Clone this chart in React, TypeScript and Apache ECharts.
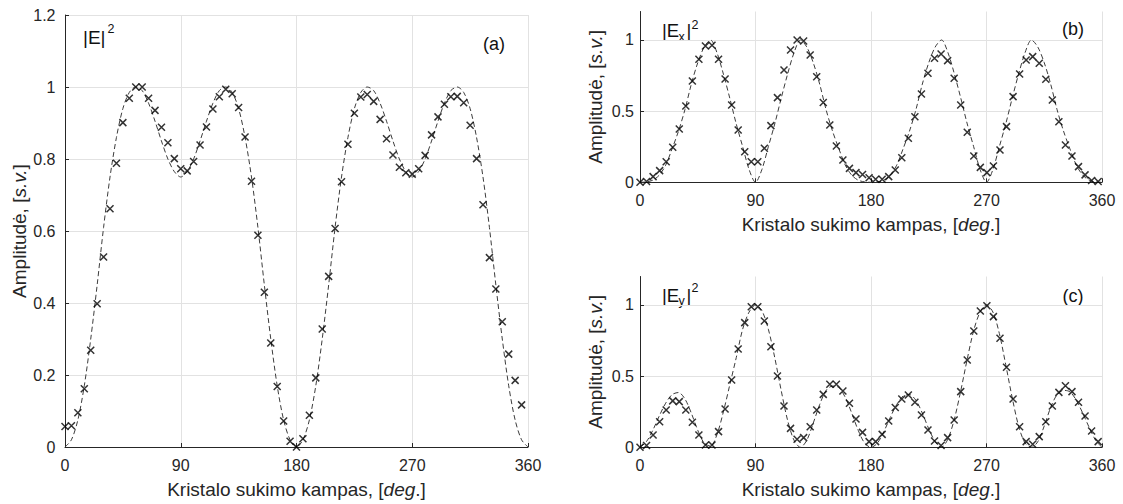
import React, { useEffect, useRef } from "react";
import * as echarts from "echarts";

// ---------- data ----------
const anglesA = [
  0, 5, 10, 15, 20, 25, 30, 35, 40, 45, 50, 55, 60, 65, 70, 75, 80, 85, 90, 95,
  100, 105, 110, 115, 120, 125, 130, 135, 140, 145, 150, 155, 160, 165, 170, 175,
  180, 185, 190, 195, 200, 205, 210, 215, 220, 225, 230, 235, 240, 245, 250, 255,
  260, 265, 270, 275, 280, 285, 290, 295, 300, 305, 310, 315, 320, 325, 330, 335,
  340, 345, 350, 355,
];
const measuredA = [
  0.057, 0.059, 0.095, 0.162, 0.269, 0.398, 0.528, 0.662, 0.788, 0.901, 0.969, 1.0,
  1.0, 0.969, 0.935, 0.888, 0.845, 0.801, 0.773, 0.767, 0.793, 0.839, 0.889, 0.939,
  0.973, 0.994, 0.981, 0.943, 0.861, 0.738, 0.588, 0.43, 0.289, 0.168, 0.072, 0.016,
  0.0, 0.023, 0.088, 0.192, 0.328, 0.474, 0.607, 0.737, 0.841, 0.927, 0.972, 0.979,
  0.96, 0.91, 0.856, 0.811, 0.777, 0.762, 0.758, 0.773, 0.81, 0.867, 0.917, 0.952,
  0.973, 0.974, 0.956, 0.894, 0.801, 0.673, 0.526, 0.439, 0.348, 0.258, 0.185, 0.117,
];

const anglesBC = [
  0, 5.1, 10.2, 15.3, 20.4, 25.5, 30.6, 35.7, 40.8, 45.9, 51, 56.1, 61.2, 66.3, 71.4,
  76.5, 81.6, 86.7, 91.8, 96.9, 102, 107.1, 112.2, 117.3, 122.4, 127.5, 132.6, 137.7,
  142.8, 147.9, 153, 158.1, 163.2, 168.3, 173.4, 178.5, 183.6, 188.7, 193.8, 198.9,
  204, 209.1, 214.2, 219.3, 224.4, 229.5, 234.6, 239.7, 244.8, 249.9, 255, 260.1,
  265.2, 270.3, 275.4, 280.5, 285.6, 290.7, 295.8, 300.9, 306, 311.1, 316.2, 321.3,
  326.4, 331.5, 336.6, 341.7, 346.8, 351.9, 357,
];
const measuredB = [
  0, 0.005, 0.04, 0.082, 0.145, 0.246, 0.375, 0.536, 0.712, 0.864, 0.958, 0.963,
  0.864, 0.726, 0.543, 0.368, 0.215, 0.145, 0.145, 0.239, 0.398, 0.595, 0.789, 0.93,
  1.0, 0.993, 0.895, 0.742, 0.56, 0.403, 0.255, 0.157, 0.098, 0.068, 0.055, 0.032,
  0.022, 0.022, 0.04, 0.087, 0.173, 0.309, 0.461, 0.621, 0.766, 0.871, 0.902, 0.855,
  0.731, 0.543, 0.351, 0.185, 0.105, 0.068, 0.115, 0.227, 0.391, 0.602, 0.761, 0.859,
  0.883, 0.836, 0.724, 0.578, 0.426, 0.262, 0.185, 0.11, 0.052, 0.012, 0.005,
];
const measuredC = [
  0, 0.012, 0.087, 0.18, 0.262, 0.326, 0.321, 0.262, 0.176, 0.087, 0.016, 0.016,
  0.11, 0.269, 0.473, 0.691, 0.876, 0.988, 0.988, 0.888, 0.707, 0.501, 0.29, 0.133,
  0.056, 0.068, 0.145, 0.262, 0.372, 0.443, 0.443, 0.396, 0.309, 0.199, 0.105, 0.04,
  0.04, 0.091, 0.185, 0.279, 0.34, 0.368, 0.316, 0.227, 0.122, 0.044, 0.012, 0.068,
  0.192, 0.391, 0.614, 0.817, 0.958, 0.995, 0.918, 0.766, 0.562, 0.34, 0.145, 0.04,
  0.021, 0.075, 0.18, 0.29, 0.386, 0.433, 0.391, 0.316, 0.22, 0.115, 0.04,
];

const theoryAngles = [
  0, 5, 10, 15, 20, 25, 30, 35, 40, 45, 50, 55, 60, 65, 70, 75, 80, 85, 90, 95,
  100, 105, 110, 115, 120, 125, 130, 135, 140, 145, 150, 155, 160, 165, 170, 175,
  180, 185, 190, 195, 200, 205, 210, 215, 220, 225, 230, 235, 240, 245, 250, 255,
  260, 265, 270, 275, 280, 285, 290, 295, 300, 305, 310, 315, 320, 325, 330, 335,
  340, 345, 350, 355, 360,
];
const theoryA = [
  0, 0.02, 0.075, 0.17, 0.3, 0.45, 0.61, 0.75, 0.86, 0.94, 0.985, 1.0, 0.99, 0.955,
  0.905, 0.85, 0.8, 0.765, 0.75, 0.765, 0.8, 0.85, 0.905, 0.955, 0.99, 1.0, 0.985,
  0.94, 0.86, 0.75, 0.61, 0.45, 0.3, 0.17, 0.075, 0.02, 0,
  0.02, 0.075, 0.17, 0.3, 0.45, 0.61, 0.75, 0.86, 0.94, 0.985, 1.0, 0.99, 0.955,
  0.905, 0.85, 0.8, 0.765, 0.75, 0.765, 0.8, 0.85, 0.905, 0.955, 0.99, 1.0, 0.985,
  0.94, 0.86, 0.75, 0.61, 0.45, 0.3, 0.17, 0.075, 0.02, 0,
];
const theoryB = [
  0, 0.003, 0.015, 0.05, 0.12, 0.235, 0.36, 0.51, 0.69, 0.84, 0.95, 1.0, 0.91, 0.76,
  0.59, 0.41, 0.25, 0.09, 0, 0.09, 0.25, 0.41, 0.59, 0.76, 0.91, 1.0, 0.95, 0.84,
  0.69, 0.51, 0.36, 0.235, 0.12, 0.05, 0.015, 0.003, 0,
  0.003, 0.015, 0.05, 0.12, 0.235, 0.36, 0.51, 0.69, 0.84, 0.95, 1.0, 0.91, 0.76,
  0.59, 0.41, 0.25, 0.09, 0, 0.09, 0.25, 0.41, 0.59, 0.76, 0.91, 1.0, 0.95, 0.84,
  0.69, 0.51, 0.36, 0.235, 0.12, 0.05, 0.015, 0.003, 0,
];
const theoryC = [
  0, 0.04, 0.12, 0.22, 0.31, 0.37, 0.385, 0.34, 0.24, 0.12, 0.03, 0.008, 0.09, 0.25,
  0.44, 0.63, 0.83, 0.95, 1.0, 0.96, 0.83, 0.63, 0.4, 0.19, 0.05, 0, 0.05, 0.17, 0.3,
  0.4, 0.43, 0.42, 0.35, 0.24, 0.12, 0.03, 0, 0.03, 0.11, 0.21, 0.3, 0.36, 0.37,
  0.33, 0.24, 0.13, 0.04, 0, 0.06, 0.2, 0.4, 0.62, 0.82, 0.95, 1.0, 0.95, 0.8, 0.58,
  0.35, 0.15, 0.03, 0, 0.04, 0.15, 0.28, 0.37, 0.4, 0.39, 0.33, 0.24, 0.14, 0.05, 0,
];

const xTickStep = 90;
const yTickStepA = 0.2;
const yTickStepBC = 0.5;

// ---------- styling ----------
const FONT = "'Liberation Sans', Arial, Helvetica, sans-serif";
const AX = "#262626";
const GRIDC = "#e2e2e2";
const CROSS = "path://M0 0L10 10M10 0L0 10";

const pairs = (xs: number[], ys: number[]) => ys.map((y, i) => [xs[i], y]);

function makeX(gridIndex: number) {
  return {
    type: "value",
    gridIndex,
    min: 0,
    max: 360,
    interval: xTickStep,
    axisLine: { show: true, onZero: false, lineStyle: { color: AX, width: 1 } },
    axisTick: { show: true, inside: true, length: 4, lineStyle: { color: AX } },
    axisLabel: { color: AX, fontSize: 16, fontFamily: FONT, margin: 10 },
    splitLine: { show: true, lineStyle: { color: GRIDC, width: 1 } },
    name: "Kristalo sukimo kampas, [{i|deg}.]",
    nameLocation: "middle",
    nameGap: 33,
    nameTextStyle: {
      color: AX,
      fontSize: 19,
      fontFamily: FONT,
      rich: { i: { fontStyle: "italic", fontSize: 19, fontFamily: FONT, color: AX } },
    },
  };
}

function makeY(gridIndex: number, step: number, margin: number, nameGap: number, hideMax: boolean) {
  return {
    type: "value",
    gridIndex,
    min: 0,
    max: 1.2,
    interval: step,
    axisLine: { show: true, onZero: false, lineStyle: { color: AX, width: 1 } },
    axisTick: { show: true, inside: true, length: 4, lineStyle: { color: AX } },
    axisLabel: { color: AX, fontSize: 16, fontFamily: FONT, margin, showMaxLabel: !hideMax },
    splitLine: { show: true, showMaxLine: !hideMax, lineStyle: { color: GRIDC, width: 1 } },
    name: "Amplitudė, [{i|s.v.}]",
    nameLocation: "middle",
    nameGap,
    nameTextStyle: {
      color: AX,
      fontSize: 19,
      fontFamily: FONT,
      rich: { i: { fontStyle: "italic", fontSize: 19, fontFamily: FONT, color: AX } },
    },
  };
}

function theorySeries(idx: number, data: number[]) {
  return {
    type: "line",
    xAxisIndex: idx,
    yAxisIndex: idx,
    data: pairs(theoryAngles, data),
    showSymbol: false,
    smooth: 0.3,
    lineStyle: { color: "#3c3c3c", width: 1, type: [5, 3] },
    z: 2,
  };
}

function measuredSeries(idx: number, xs: number[], data: number[]) {
  return {
    type: "scatter",
    xAxisIndex: idx,
    yAxisIndex: idx,
    data: pairs(xs, data),
    symbol: CROSS,
    symbolSize: 7,
    itemStyle: { color: "rgba(0,0,0,0)", borderColor: "#000", borderWidth: 1.5 },
    z: 3,
  };
}

function txt(text: string, x: number, y: number, size: number, align = "left") {
  return {
    type: "text",
    x,
    y,
    silent: true,
    style: {
      text,
      fill: "#111",
      font: `${size}px ${FONT}`,
      align,
      verticalAlign: "middle",
    },
  };
}

export default function App() {
  const ref = useRef<HTMLDivElement>(null);

  useEffect(() => {
    document.body.style.margin = "0";
    if (!ref.current) return;
    const chart = echarts.init(ref.current, undefined, { renderer: "svg" });
    chart.setOption({
      animation: false,
      backgroundColor: "#fff",
      grid: [
        { left: 65, top: 15, width: 463, height: 433.3 },
        { left: 640, top: 11.5, width: 462, height: 170.8 },
        { left: 640, top: 276.5, width: 462, height: 170.8 },
      ],
      xAxis: [makeX(0), makeX(1), makeX(2)],
      yAxis: [
        makeY(0, yTickStepA, 9.5, 36.5, false),
        makeY(1, yTickStepBC, 6, 35.5, true),
        makeY(2, yTickStepBC, 6, 35.5, true),
      ],
      series: [
        theorySeries(0, theoryA),
        measuredSeries(0, anglesA, measuredA),
        theorySeries(1, theoryB),
        measuredSeries(1, anglesBC, measuredB),
        theorySeries(2, theoryC),
        measuredSeries(2, anglesBC, measuredC),
      ],
      graphic: [
        txt("|E|", 83, 37.5, 19),
        txt("2", 107.5, 29, 12.5),
        txt("(a)", 494, 43.5, 18, "center"),
        txt("|E", 662, 30, 18.5),
        txt("x", 678.5, 37, 12.5),
        txt("|", 686.5, 30, 18.5),
        txt("2", 691.5, 24.5, 12.5),
        txt("(b)", 1073, 28.5, 18, "center"),
        txt("|E", 662, 295, 18.5),
        txt("y", 678.5, 301, 12.5),
        txt("|", 686.5, 295, 18.5),
        txt("2", 691.5, 288, 12.5),
        txt("(c)", 1073, 295.5, 18, "center"),
      ],
    });
    return () => chart.dispose();
  }, []);

  return <div ref={ref} style={{ width: 1123, height: 504, background: "#fff" }} />;
}
